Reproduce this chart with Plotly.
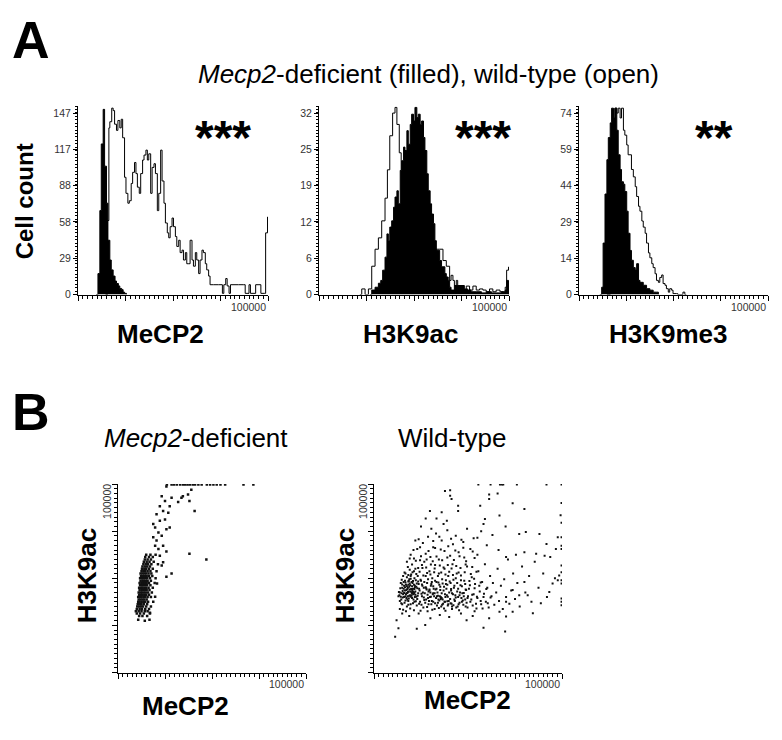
import plotly.graph_objects as go

W, H = 782, 740
FONT = "Liberation Sans, Arial, sans-serif"

# ---------------- DATA (log10 fluorescence, cell counts) ----------------
# Histogram 1: MeCP2
mecp2_ko_x = [1.38, 1.42, 1.46, 1.49, 1.53, 1.56, 1.60, 1.63, 1.67, 1.70, 1.74, 1.78, 1.81, 1.85, 1.88, 1.92, 1.95, 1.98, 2.02]
mecp2_ko_y = [0, 17, 68, 122, 150, 104, 74, 44, 28, 20, 15, 11, 9, 7, 5, 4, 2, 1, 0]
mecp2_wt_x = [1.58, 1.62, 1.65, 1.67, 1.71, 1.74, 1.77, 1.81, 1.84, 1.88, 1.91, 1.94, 1.98, 2.01, 2.05, 2.08, 2.12, 2.15, 2.19, 2.22,
              2.25, 2.29, 2.32, 2.36, 2.39, 2.43, 2.46, 2.49, 2.53, 2.56, 2.60, 2.63, 2.67, 2.70, 2.74, 2.77, 2.81, 2.84, 2.88, 2.91,
              2.94, 2.98, 3.01, 3.05, 3.08, 3.12, 3.15, 3.19, 3.22, 3.26, 3.29, 3.32, 3.36, 3.40, 3.43, 3.47, 3.50, 3.54, 3.57, 3.61,
              3.64, 3.68, 3.71, 3.75, 3.78, 3.85, 3.96, 4.04, 4.07, 4.11, 4.14, 4.18, 4.21, 4.38, 4.49, 4.52, 4.60, 4.63, 4.74, 4.81,
              4.85, 4.92, 4.95, 4.99]
mecp2_wt_y = [0, 60, 135, 140, 151, 149, 138, 133, 141, 135, 142, 127, 95, 82, 74, 76, 90, 99, 107, 98,
              87, 82, 98, 109, 113, 117, 109, 114, 82, 103, 106, 98, 68, 82, 117, 92, 74, 58, 50, 46,
              55, 62, 55, 47, 39, 44, 34, 36, 28, 34, 25, 25, 44, 28, 23, 34, 28, 17, 28, 36,
              34, 25, 20, 15, 8, 8, 8, 1, 8, 13, 7, 1, 8, 8, 8, 1, 8, 1, 8, 8,
              1, 1, 50, 63]

# Histogram 2: H3K9ac
h3k9ac_ko_x = [2.07, 2.11, 2.18, 2.25, 2.30, 2.34, 2.39, 2.43, 2.46, 2.49, 2.53, 2.57, 2.60, 2.64, 2.67, 2.71, 2.74, 2.78, 2.81, 2.85,
               2.88, 2.92, 2.95, 2.99, 3.02, 3.06, 3.09, 3.13, 3.16, 3.20, 3.23, 3.27, 3.30, 3.34, 3.37, 3.41, 3.44, 3.47, 3.51, 3.54,
               3.58, 3.61, 3.65, 3.68, 3.72, 3.75, 3.78, 3.85, 3.92, 3.99, 4.06, 4.13, 4.20, 4.31, 4.42, 4.52, 4.63, 4.73, 4.84, 4.92,
               4.95, 4.99]
h3k9ac_ko_y = [0, 0.8, 1.3, 2, 2.5, 4.3, 6.6, 10.7, 9.5, 11.9, 13, 15.4, 17.2, 18.3, 16, 21.9, 23.6, 26, 25.4, 28.9,
               26.5, 30, 31.8, 30.6, 33, 31.2, 31.8, 30, 30.6, 27.7, 25.4, 21.3, 18.3, 16, 14.2, 12.5, 9.5, 7.8, 7.8, 6,
               4.9, 4.9, 3.7, 3.1, 2.5, 1.3, 0.8, 1.6, 1.6, 1.6, 1, 0.8, 0.5, 0.5, 0.3, 0.5, 0.3, 0.3, 0.5, 0.8,
               2.5, 0]
h3k9ac_wt_x = [1.86, 1.90, 1.97, 2.04, 2.11, 2.18, 2.25, 2.32, 2.39, 2.44, 2.49, 2.55, 2.60, 2.64, 2.69, 2.73, 2.78, 2.85, 2.92, 2.99,
               3.13, 3.26, 3.40, 3.47, 3.54, 3.61, 3.68, 3.75, 3.78, 3.82, 3.85, 3.89, 3.92, 3.96, 4.03, 4.10, 4.17, 4.24, 4.31, 4.38,
               4.45, 4.52, 4.59, 4.66, 4.73, 4.81, 4.88, 4.92, 4.95, 4.99]
h3k9ac_wt_y = [0, 1, 0, 1, 5, 8, 10, 13, 17, 22, 28, 32, 33, 30, 25, 22, 19.5, 17, 14, 12,
               9, 7, 5.5, 8, 8, 6, 5, 2.5, 3.4, 2.5, 1.6, 2.5, 0.8, 1.6, 0.8, 1.5, 0.8, 1.5, 0.8, 1,
               0.8, 0.5, 1, 0.5, 0.8, 0.5, 0.2, 1.3, 4.3, 4.9]

# Histogram 3: H3K9me3
h3k9me3_ko_x = [1.44, 1.48, 1.51, 1.55, 1.59, 1.62, 1.66, 1.69, 1.73, 1.76, 1.80, 1.83, 1.87, 1.90, 1.94, 1.97, 2.01, 2.04, 2.08, 2.11,
                2.15, 2.19, 2.22, 2.26, 2.29, 2.36, 2.43, 2.50, 2.57, 2.64, 2.68]
h3k9me3_ko_y = [0, 3, 21, 41, 55, 64, 70, 76, 72, 76, 67, 57, 51, 46, 45, 42, 34, 25, 18, 14,
                11, 10, 12.6, 5.8, 5, 3.8, 2.4, 1.8, 1, 1, 0]
h3k9me3_wt_x = [1.59, 1.66, 1.73, 1.76, 1.80, 1.83, 1.87, 1.90, 1.94, 1.97, 2.01, 2.04, 2.08, 2.11, 2.15, 2.19, 2.22, 2.26, 2.29, 2.33,
                2.36, 2.40, 2.43, 2.47, 2.50, 2.54, 2.57, 2.61, 2.64, 2.68, 2.71, 2.75, 2.78, 2.82, 2.85, 2.89, 2.92, 2.96, 2.99, 3.06,
                3.09, 3.20, 3.24, 3.27]
h3k9me3_wt_y = [0, 41, 71, 76, 74, 76, 72, 76, 67, 65, 61, 57, 57, 51, 48, 44, 40, 36, 34, 30,
                27.5, 25, 21, 17, 15, 12.6, 11, 8.5, 5.8, 5, 7, 8, 4.5, 3.8, 2.4, 1, 2.4, 1.8, 0.4, 0.4,
                0, 1, 0, 0]

hist_y_ticks = [[0, 29.4, 58.8, 88.2, 117.6, 147], [0, 6.4, 12.8, 19.2, 25.6, 32], [0, 14.8, 29.6, 44.4, 59.2, 74]]
hist_y_labels = [["0", "29", "58", "88", "117", "147"], ["0", "6", "12", "19", "25", "32"], ["0", "14", "29", "44", "59", "74"]]
hist_markers = ["MeCP2", "H3K9ac", "H3K9me3"]
hist_stars = ["***", "***", "**"]

# Scatter B (log10 MeCP2, log10 H3K9ac)
ko_points = [
    # dense cluster
    (1.45, 2.20), (1.52, 2.20), (1.62, 2.20),
    (1.40, 2.25), (1.47, 2.25), (1.55, 2.25), (1.68, 2.25),
    (1.38, 2.30), (1.44, 2.30), (1.50, 2.30), (1.57, 2.30), (1.63, 2.30),
    (1.40, 2.35), (1.46, 2.35), (1.51, 2.35), (1.58, 2.35), (1.66, 2.35),
    (1.41, 2.40), (1.45, 2.40), (1.49, 2.40), (1.53, 2.40), (1.60, 2.40), (1.70, 2.40),
    (1.42, 2.45), (1.47, 2.45), (1.50, 2.45), (1.55, 2.45), (1.62, 2.45),
    (1.43, 2.50), (1.46, 2.50), (1.50, 2.50), (1.54, 2.50), (1.58, 2.50), (1.64, 2.50), (1.75, 2.50),
    (1.44, 2.55), (1.48, 2.55), (1.52, 2.55), (1.56, 2.55), (1.61, 2.55),
    (1.43, 2.60), (1.47, 2.60), (1.50, 2.60), (1.54, 2.60), (1.58, 2.60), (1.63, 2.60), (1.70, 2.60),
    (1.45, 2.65), (1.49, 2.65), (1.52, 2.65), (1.56, 2.65), (1.60, 2.65), (1.66, 2.65),
    (1.44, 2.70), (1.48, 2.70), (1.51, 2.70), (1.55, 2.70), (1.59, 2.70), (1.64, 2.70), (1.72, 2.70),
    (1.46, 2.75), (1.50, 2.75), (1.53, 2.75), (1.57, 2.75), (1.61, 2.75), (1.67, 2.75),
    (1.45, 2.80), (1.49, 2.80), (1.52, 2.80), (1.56, 2.80), (1.60, 2.80), (1.65, 2.80), (1.74, 2.80),
    (1.47, 2.85), (1.51, 2.85), (1.54, 2.85), (1.58, 2.85), (1.62, 2.85), (1.69, 2.85),
    (1.46, 2.90), (1.50, 2.90), (1.53, 2.90), (1.57, 2.90), (1.61, 2.90), (1.66, 2.90), (1.78, 2.90),
    (1.48, 2.95), (1.52, 2.95), (1.55, 2.95), (1.59, 2.95), (1.63, 2.95), (1.70, 2.95),
    (1.47, 3.00), (1.51, 3.00), (1.54, 3.00), (1.58, 3.00), (1.62, 3.00), (1.68, 3.00), (1.80, 3.00),
    (1.49, 3.05), (1.53, 3.05), (1.57, 3.05), (1.61, 3.05), (1.66, 3.05), (1.73, 3.05),
    (1.48, 3.10), (1.52, 3.10), (1.56, 3.10), (1.60, 3.10), (1.65, 3.10), (1.71, 3.10),
    (1.50, 3.15), (1.54, 3.15), (1.58, 3.15), (1.63, 3.15), (1.69, 3.15), (1.82, 3.15),
    (1.51, 3.20), (1.56, 3.20), (1.60, 3.20), (1.66, 3.20), (1.74, 3.20),
    (1.52, 3.25), (1.57, 3.25), (1.62, 3.25), (1.68, 3.25),
    (1.54, 3.30), (1.59, 3.30), (1.64, 3.30), (1.71, 3.30), (1.85, 3.30),
    (1.55, 3.35), (1.61, 3.35), (1.67, 3.35), (1.76, 3.35),
    (1.57, 3.40), (1.63, 3.40), (1.70, 3.40),
    (1.58, 3.45), (1.66, 3.45), (1.74, 3.45),
    (1.60, 3.50), (1.69, 3.50), (1.80, 3.50),
    # sparse tail
    (1.43, 2.12), (1.57, 2.10), (1.67, 2.12), (1.68, 2.27), (1.79, 2.61), (1.83, 2.89),
    (2.14, 3.10), (2.03, 3.03), (1.93, 3.27), (1.96, 3.34), (1.89, 3.48), (1.86, 3.62),
    (1.79, 3.69), (1.82, 3.80), (1.75, 3.87), (1.93, 3.90), (1.86, 3.97), (1.79, 4.08),
    (2.03, 4.04), (2.10, 4.08), (1.75, 4.15), (1.89, 4.22), (2.00, 4.25), (1.82, 4.36),
    (2.07, 4.39), (1.96, 4.43), (1.89, 4.53), (2.10, 4.53), (2.00, 4.64), (2.14, 4.71),
    (1.93, 4.74), (2.28, 4.62), (2.38, 4.74), (2.49, 4.78), (2.52, 4.64), (2.35, 4.71),
    (2.56, 4.88), (2.03, 4.95), (2.63, 4.43), (2.52, 3.52), (2.88, 3.40), (2.03, 3.57),
    (1.96, 3.69),
    # saturated top row
    (2.04, 4.99), (2.14, 4.99), (2.19, 4.99), (2.25, 4.99), (2.32, 4.99), (2.38, 4.99), (2.43, 4.99),
    (2.48, 4.99), (2.53, 4.99), (2.59, 4.99), (2.64, 4.99), (2.71, 4.99), (2.78, 4.99), (2.89, 4.99),
    (2.96, 4.99), (3.03, 4.99), (3.10, 4.99), (3.18, 4.99), (3.28, 4.99), (3.67, 4.99), (3.88, 4.99),
]

wt_points = [
    # dense core
    (1.52, 2.62), (1.55, 2.70), (1.58, 2.55), (1.60, 2.80), (1.62, 2.66), (1.63, 2.92), (1.65, 2.48), (1.66, 2.74),
    (1.68, 2.86), (1.69, 2.58), (1.70, 3.02), (1.71, 2.69), (1.72, 2.80), (1.73, 2.52), (1.74, 2.94), (1.75, 2.63),
    (1.76, 2.76), (1.77, 2.85), (1.78, 2.45), (1.79, 3.08), (1.80, 2.70), (1.81, 2.58), (1.82, 2.90), (1.83, 2.78),
    (1.84, 2.66), (1.85, 3.15), (1.86, 2.50), (1.87, 2.84), (1.88, 2.72), (1.89, 2.96), (1.90, 2.61), (1.91, 2.42),
    (1.92, 2.79), (1.93, 3.05), (1.94, 2.68), (1.95, 2.88), (1.57, 2.90), (1.60, 2.45), (1.64, 2.60), (1.67, 3.10),
    (1.70, 2.40), (1.74, 2.72), (1.78, 2.99), (1.81, 2.83), (1.84, 2.55), (1.88, 3.20), (1.92, 2.56), (1.55, 2.52),
    (1.59, 2.68), (1.63, 2.78), (1.66, 2.95), (1.72, 2.62), (1.76, 3.18), (1.80, 2.92), (1.83, 2.47), (1.86, 2.70),
    (1.90, 2.82), (1.62, 3.05), (1.69, 2.75), (1.73, 2.86), (1.77, 2.64), (1.79, 2.77), (1.71, 2.55), (1.75, 2.82),
    (1.82, 2.73), (1.87, 2.60),
    (1.53, 2.71), (1.57, 2.61), (1.61, 2.73), (1.64, 2.69), (1.67, 2.62), (1.70, 2.83), (1.72, 2.71), (1.74, 2.57),
    (1.76, 2.89), (1.78, 2.72), (1.80, 2.63), (1.83, 2.71), (1.85, 2.86), (1.88, 2.65), (1.60, 2.87), (1.66, 2.81),
    (1.69, 2.68), (1.73, 2.93), (1.81, 2.67), (1.86, 2.77),
    # diagonal streak
    (1.78, 3.05), (1.86, 3.00), (1.94, 2.93), (2.02, 2.87), (2.10, 2.81), (2.18, 2.74), (2.26, 2.68), (2.34, 2.62),
    (2.42, 2.56), (2.50, 2.50), (2.58, 2.45), (2.66, 2.40),
    # middle band
    (1.97, 2.74), (1.98, 2.50), (2.00, 2.95), (2.02, 2.62), (2.03, 3.22), (2.05, 2.38), (2.06, 2.80), (2.08, 2.68),
    (2.10, 3.05), (2.11, 2.55), (2.13, 2.90), (2.14, 2.30), (2.16, 2.72), (2.18, 3.15), (2.19, 2.60), (2.21, 2.84),
    (2.22, 2.45), (2.24, 3.00), (2.25, 2.66), (2.27, 2.78), (2.29, 2.35), (2.30, 3.28), (2.32, 2.58), (2.33, 2.92),
    (2.35, 2.70), (2.36, 2.48), (2.38, 3.10), (2.40, 2.62), (2.41, 2.82), (2.43, 2.40), (2.45, 2.98), (2.46, 2.55),
    (2.48, 2.74), (2.50, 3.20), (2.51, 2.50), (2.53, 2.88), (2.55, 2.64), (2.57, 2.42), (2.58, 3.05), (2.60, 2.70),
    (2.62, 2.56), (2.63, 2.90), (2.65, 2.46), (2.67, 3.30), (2.68, 2.66), (2.70, 2.80), (2.72, 2.52), (2.74, 3.00),
    (2.75, 2.38), (2.77, 2.72), (2.79, 2.60), (2.80, 3.12), (2.82, 2.48), (2.84, 2.85), (2.86, 2.58), (2.88, 2.68),
    (2.90, 2.44), (2.92, 2.95), (2.94, 2.55), (2.96, 2.75), (2.98, 3.25), (3.00, 2.62),
    (2.01, 2.44), (2.07, 3.35), (2.12, 2.76), (2.17, 2.52), (2.23, 2.92), (2.28, 2.62), (2.34, 2.42), (2.39, 2.86),
    (2.44, 2.68), (2.49, 2.36), (2.54, 2.78), (2.59, 2.52), (2.64, 2.74), (2.69, 2.43), (2.73, 2.64), (2.78, 2.40),
    (2.83, 2.70), (2.87, 2.50), (2.91, 2.62), (2.95, 2.40), (2.04, 2.70), (2.09, 2.48), (2.15, 2.58), (2.20, 2.70),
    (2.26, 2.50), (2.31, 2.76), (2.37, 2.55), (2.42, 2.60), (2.47, 2.46), (2.52, 2.60),
    (1.62, 2.33), (1.77, 2.36), (1.99, 2.31), (2.13, 2.39), (2.24, 2.33), (2.38, 2.37), (2.52, 2.31), (2.66, 2.35),
    (2.81, 2.32), (2.99, 2.38), (3.14, 2.30), (3.31, 2.36),
    (1.58, 2.47), (1.67, 2.53), (1.73, 2.44), (1.89, 2.51), (1.96, 2.46), (2.07, 2.54), (2.16, 2.45), (2.23, 2.52),
    (2.30, 2.47), (2.39, 2.53), (2.45, 2.44), (2.56, 2.51), (2.63, 2.47), (2.71, 2.55), (2.80, 2.45), (2.89, 2.53),
    (2.97, 2.48), (3.07, 2.55), (3.17, 2.46), (3.27, 2.52), (3.42, 2.47),
    (1.54, 2.64), (1.61, 2.59), (1.68, 2.66), (1.78, 2.61), (1.85, 2.68), (1.93, 2.63), (2.01, 2.67), (2.06, 2.59),
    (2.14, 2.65), (2.21, 2.61), (2.29, 2.68), (2.36, 2.63), (2.44, 2.58), (2.51, 2.66), (2.57, 2.61), (2.66, 2.68),
    (2.74, 2.59), (2.82, 2.64), (2.91, 2.69), (2.99, 2.58), (3.09, 2.65), (3.19, 2.61), (3.34, 2.67), (3.48, 2.59),
    (1.56, 2.79), (1.64, 2.84), (1.71, 2.77), (1.81, 2.76), (1.87, 2.81), (1.96, 2.78), (2.03, 2.84), (2.11, 2.79),
    (2.18, 2.76), (2.26, 2.83), (2.33, 2.78), (2.41, 2.75), (2.49, 2.82), (2.56, 2.86), (2.64, 2.77), (2.71, 2.84),
    (2.79, 2.78), (2.87, 2.83), (2.95, 2.76), (3.04, 2.85), (3.14, 2.79), (3.24, 2.84), (3.39, 2.77),
    (1.59, 2.97), (1.67, 2.91), (1.75, 2.98), (1.83, 2.94), (1.91, 2.89), (1.99, 2.97), (2.07, 2.92), (2.15, 2.98),
    (2.22, 2.88), (2.30, 2.95), (2.37, 2.91), (2.46, 2.89), (2.53, 2.96), (2.61, 2.93), (2.69, 2.97), (2.77, 2.90),
    (2.85, 2.96), (2.94, 2.88), (3.03, 2.94), (3.13, 2.99), (3.27, 2.91),
    (1.65, 3.12), (1.73, 3.07), (1.82, 3.13), (1.90, 3.09), (1.97, 3.14), (2.05, 3.06), (2.13, 3.11), (2.20, 3.08),
    (2.28, 3.13), (2.36, 3.05), (2.43, 3.12), (2.52, 3.08), (2.60, 3.14), (2.68, 3.07), (2.76, 3.10), (2.85, 3.06),
    (2.93, 3.13), (3.06, 3.09), (3.18, 3.14),
    (1.72, 3.24), (1.81, 3.29), (1.94, 3.22), (2.02, 3.28), (2.11, 3.23), (2.21, 3.29), (2.29, 3.21), (2.40, 3.27),
    (2.48, 3.23), (2.57, 3.28), (2.65, 3.21), (2.75, 3.26), (2.84, 3.22), (2.95, 3.29), (3.09, 3.24),
    (1.76, 3.42), (1.89, 3.37), (2.00, 3.47), (2.12, 3.40), (2.25, 3.36), (2.33, 3.46), (2.45, 3.38), (2.56, 3.44),
    (2.70, 3.39), (2.82, 3.47), (2.96, 3.36), (3.14, 3.43),
    (1.84, 3.60), (1.98, 3.66), (2.16, 3.58), (2.30, 3.64), (2.42, 3.61), (2.58, 3.68), (2.73, 3.59), (2.90, 3.65),
    (3.10, 3.57),
    (1.95, 3.83), (2.26, 3.79), (2.39, 3.88), (2.64, 3.84), (2.90, 3.77), (3.20, 3.86),
    # right region
    (3.02, 2.78), (3.05, 2.50), (3.08, 3.02), (3.10, 2.42), (3.12, 2.66), (3.15, 2.88), (3.18, 2.36), (3.20, 2.58),
    (3.22, 3.15), (3.25, 2.72), (3.28, 2.45), (3.30, 2.92), (3.33, 2.60), (3.36, 3.30), (3.38, 2.50), (3.41, 2.80),
    (3.44, 2.38), (3.47, 3.05), (3.50, 2.62), (3.53, 2.90), (3.56, 2.44), (3.60, 2.70), (3.63, 3.20), (3.66, 2.52),
    (3.70, 2.84), (3.74, 2.35), (3.77, 2.98), (3.81, 2.60), (3.85, 3.40), (3.88, 2.46), (3.92, 2.74), (3.96, 3.10),
    (4.00, 2.56), (4.05, 2.90), (4.10, 2.40), (4.15, 3.25), (4.22, 2.70), (4.30, 3.05), (4.35, 2.50), (4.42, 3.35),
    (4.50, 2.80), (4.60, 3.10), (4.68, 2.60), (4.75, 3.45), (4.85, 3.00),
    (3.81, 3.45), (4.02, 3.50), (4.20, 3.55), (4.45, 3.52), (4.63, 3.48), (4.80, 2.89), (4.91, 2.96), (4.94, 3.06),
    (4.73, 2.71), (4.55, 2.47), (4.38, 2.26), (4.20, 2.92), (4.27, 2.64), (4.09, 2.64), (3.95, 2.75), (3.81, 2.50),
    (3.95, 2.29), (3.67, 2.29), (3.81, 2.19),
    # upper scatter
    (1.70, 3.35), (1.78, 3.50), (1.85, 3.42), (1.92, 3.62), (1.98, 3.38), (2.04, 3.75), (2.10, 3.52), (2.15, 3.88),
    (2.20, 3.45), (2.26, 3.66), (2.32, 3.95), (2.38, 3.40), (2.44, 3.80), (2.50, 3.58), (2.56, 4.02), (2.62, 3.48),
    (2.68, 3.72), (2.74, 3.90), (2.80, 3.55), (2.86, 3.82), (2.92, 3.44), (2.98, 4.05), (3.05, 3.62), (3.12, 3.85),
    (3.20, 3.50), (3.28, 4.00), (3.40, 3.70), (3.52, 3.92), (3.65, 3.60), (3.80, 4.10), (1.88, 3.80), (2.00, 4.10),
    (2.22, 4.05), (2.48, 4.15),
    (2.51, 4.85), (2.62, 4.87), (2.62, 4.75), (2.65, 4.68), (2.79, 4.54), (2.79, 4.43), (2.19, 4.43), (2.44, 4.40),
    (2.33, 4.27), (2.10, 4.27), (2.55, 4.22), (3.45, 4.78), (3.45, 4.68), (3.63, 4.80), (3.26, 4.54), (3.36, 4.26),
    (3.33, 4.15), (3.67, 4.33), (3.95, 4.59), (4.20, 4.47), (4.23, 3.98), (4.09, 3.94), (4.52, 3.94), (4.67, 3.73),
    (4.87, 3.62), (4.91, 3.87), (4.97, 4.34),
    # lower sparse
    (1.45, 1.76), (1.48, 2.11), (1.52, 1.94), (1.91, 1.93), (2.09, 2.01), (3.33, 1.95), (3.79, 1.87), (2.97, 2.11),
    (1.60, 2.25), (1.75, 2.20), (1.95, 2.25), (2.20, 2.15), (2.40, 2.22), (2.60, 2.18), (2.85, 2.25), (3.10, 2.20),
    (3.45, 2.15), (1.55, 2.35), (1.68, 2.30), (1.85, 2.32),
    # saturated top row and right column
    (3.22, 4.99), (3.48, 4.99), (3.68, 4.99), (3.72, 4.99), (3.75, 4.99), (4.04, 4.99), (4.67, 4.99), (4.99, 4.99),
    (4.99, 4.60), (4.99, 4.18), (4.99, 3.87), (4.99, 3.69), (4.99, 3.62), (4.99, 3.27), (4.99, 3.13), (4.99, 2.96),
    (4.99, 2.89), (4.99, 2.57), (4.99, 2.50), (4.99, 2.43),
]

# ---------------- LAYOUT HELPERS ----------------
def fx(px):
    return px / W

def fy(py):
    return 1 - py / H

fig = go.Figure()

hist_boxes = [(78, 268), (319, 509), (579, 768)]
hist_label_x = [160, 410, 668]
hist_top, hist_bot = 107, 297
hist_data = [
    (mecp2_ko_x, mecp2_ko_y, mecp2_wt_x, mecp2_wt_y),
    (h3k9ac_ko_x, h3k9ac_ko_y, h3k9ac_wt_x, h3k9ac_wt_y),
    (h3k9me3_ko_x, h3k9me3_ko_y, h3k9me3_wt_x, h3k9me3_wt_y),
]

layout_axes = {}
annotations = []

def ann(text, x, y, size, bold=False, angle=0, xanchor="center", yanchor="middle", color="black"):
    if bold:
        text = "<b>" + text + "</b>"
    annotations.append(dict(text=text, x=fx(x), y=fy(y), xref="paper", yref="paper", showarrow=False,
                            font=dict(family=FONT, size=size, color=color), textangle=angle,
                            xanchor=xanchor, yanchor=yanchor))

for i, ((x0, x1), (kx, ky, wx, wy)) in enumerate(zip(hist_boxes, hist_data)):
    n = i + 1
    xa = "x" if n == 1 else f"x{n}"
    ya = "y" if n == 1 else f"y{n}"
    top = hist_y_ticks[i][-1] * (hist_bot - hist_top) / (hist_bot - hist_top - 7)
    fig.add_trace(go.Scatter(x=wx, y=wy, mode="lines", line=dict(color="black", width=1, shape="hv"),
                             xaxis=xa, yaxis=ya, showlegend=False))
    fig.add_trace(go.Scatter(x=kx, y=ky, mode="lines", line=dict(color="black", width=1, shape="hv"),
                             fill="tozeroy", fillcolor="black", xaxis=xa, yaxis=ya, showlegend=False))
    layout_axes["xaxis" if n == 1 else f"xaxis{n}"] = dict(
        domain=[fx(x0), fx(x1)], range=[1, 5], anchor=ya, showline=True, linecolor="black", linewidth=1,
        ticks="outside", tickvals=[1, 2, 3, 4, 5], ticklen=5, tickcolor="black", showticklabels=False,
        showgrid=False, zeroline=False,
        minor=dict(ticks="outside", tick0=1, dtick=0.1, ticklen=3, tickcolor="black", showgrid=False))
    layout_axes["yaxis" if n == 1 else f"yaxis{n}"] = dict(
        domain=[fy(hist_bot), fy(hist_top)], range=[0, top], anchor=xa, showline=True, linecolor="black",
        linewidth=1, ticks="outside", tickvals=hist_y_ticks[i], ticktext=hist_y_labels[i], ticklen=4,
        tickcolor="black", tickfont=dict(family=FONT, size=10.5, color="#333333"), showgrid=False,
        zeroline=False,
        minor=dict(ticks="outside", tick0=0, dtick=top / 55, ticklen=2, tickcolor="black", showgrid=False))
    ann("100000", x1, 310, 10.5, xanchor="right", color="#333333")
    ann(hist_markers[i], hist_label_x[i], 337, 26, bold=True)

star_pos = [(223, 139), (483, 139), (714, 139)]
for s, (sx, sy) in zip(hist_stars, star_pos):
    ann(s, sx, sy, 48, bold=True)

scatter_boxes = [(118, 306), (374, 562)]
marker_sizes = [2.5, 2]
sc_top, sc_bot = 488, 678
for j, ((x0, x1), pts) in enumerate(zip(scatter_boxes, [ko_points, wt_points])):
    n = j + 4
    xa, ya = f"x{n}", f"y{n}"
    fig.add_trace(go.Scatter(x=[p[0] for p in pts], y=[p[1] for p in pts], mode="markers",
                             marker=dict(color="#111111", size=marker_sizes[j], symbol="square", line=dict(width=0)),
                             xaxis=xa, yaxis=ya, showlegend=False))
    common = dict(range=[1, 5], showline=True, linecolor="black", linewidth=1, ticks="outside",
                  tickvals=[1, 2, 3, 4, 5], ticklen=5, tickcolor="black", showticklabels=False,
                  showgrid=False, zeroline=False,
                  minor=dict(ticks="outside", tick0=1, dtick=0.1, ticklen=3, tickcolor="black", showgrid=False))
    layout_axes[f"xaxis{n}"] = dict(domain=[fx(x0), fx(x1)], anchor=ya, **common)
    layout_axes[f"yaxis{n}"] = dict(domain=[fy(sc_bot), fy(sc_top)], anchor=xa, **common)
    ann("100000", x1, 690, 10.5, xanchor="right", color="#333333")
    ann("100000", x0 - 11, 506, 10.5, angle=-90, color="#333333")

ann("A", 10, 40, 52, bold=True, xanchor="left")
ann("B", 10, 415, 52, bold=True, xanchor="left")
ann("<i>Mecp2</i>-deficient (filled), wild-type (open)", 429, 75, 26)
ann("Cell count", 24, 203, 24, bold=True, angle=-90)
ann("<i>Mecp2</i>-deficient", 196, 442, 26)
ann("Wild-type", 452, 442, 26)
ann("H3K9ac", 87, 581, 26, bold=True, angle=-90)
ann("H3K9ac", 345, 581, 26, bold=True, angle=-90)
ann("MeCP2", 185, 712, 26, bold=True)
ann("MeCP2", 467, 706, 26, bold=True)

fig.update_layout(width=W, height=H, margin=dict(l=0, r=0, t=0, b=0), plot_bgcolor="white",
                  paper_bgcolor="white", annotations=annotations, font=dict(family=FONT), **layout_axes)

fig.write_html("out.html", config={"displayModeBar": False},
               post_script="document.body.style.margin='0';document.body.style.overflow='hidden';")
